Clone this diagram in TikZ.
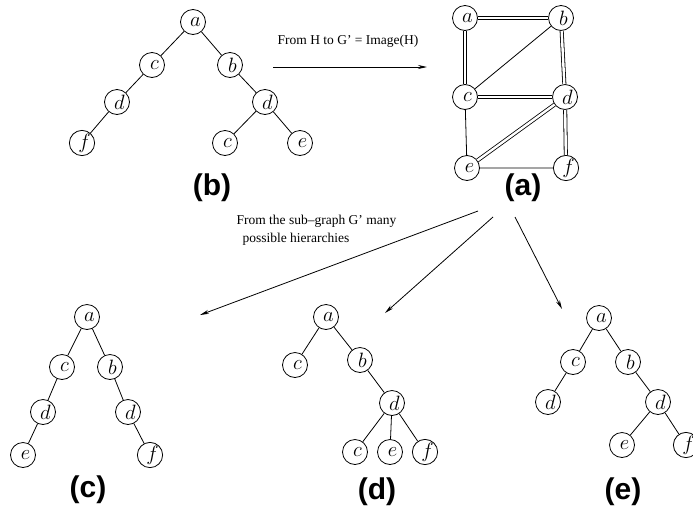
\documentclass[tikz,border=0pt]{standalone}
\usepackage{fontspec}
\setmainfont{Liberation Serif}
\newfontfamily\labelfont{Liberation Sans}
\usetikzlibrary{arrows.meta}
% vertex letters sit a little right of the circle centre
\newcommand{\vl}[1]{\hspace*{5pt}$#1$}
\tikzset{
  vtx/.style={circle, draw, line width=0.8pt, minimum size=25pt, inner sep=0pt, fill=white,
              font=\fontsize{21}{21}\selectfont},
  edge/.style={line width=0.8pt},
  dbl/.style={line width=0.8pt, double, double distance=2.4pt},
  caption/.style={font=\labelfont\bfseries\fontsize{30}{34}\selectfont},
  note/.style={font=\fontsize{13.5}{18}\selectfont, align=left},
  arr/.style={line width=0.8pt, -{Stealth[length=9pt,width=4pt]}}
}
\begin{document}
\begin{tikzpicture}[x=1pt, y=-1pt]
\useasboundingbox (0,0) rectangle (693,512);

% tree (b)
\node[vtx] (b-a) at (193,22) {\vl{a}};
\node[vtx] (b-c) at (152,65) {\vl{c}};
\node[vtx] (b-b) at (230,65) {\vl{b}};
\node[vtx] (b-d1) at (117,102) {\vl{d}};
\node[vtx] (b-d2) at (265,102) {\vl{d}};
\node[vtx] (b-f) at (82,143) {\vl{f}};
\node[vtx] (b-c2) at (225,143) {\vl{c}};
\node[vtx] (b-e) at (300,143) {\vl{e}};
\draw[edge] (b-a) -- (b-c) (b-a) -- (b-b) (b-c) -- (b-d1) (b-d1) -- (b-f)
            (b-b) -- (b-d2) (b-d2) -- (b-c2) (b-d2) -- (b-e);
\node[caption] (capb) at (212,188) {(b)};

% arrow from H to G'
\coordinate (h1) at (273,67);
\coordinate (h2) at (427,67);
\draw[arr] (h1) -- (h2);
\node[note] (hnote) at (348,41) {From H to G' = Image(H)};

% graph (a)
\node[vtx] (g-a) at (465,18) {\vl{a}};
\node[vtx] (g-b) at (561,18) {\vl{b}};
\node[vtx] (g-c) at (465,97) {\vl{c}};
\node[vtx] (g-d) at (565,97) {\vl{d}};
\node[vtx] (g-e) at (467,168) {\vl{e}};
\node[vtx] (g-f) at (566,168) {\vl{f}};
\draw[dbl] (g-a) -- (g-b);
\draw[dbl] (g-a) -- (g-c);
\draw[dbl] (g-b) -- (g-d);
\draw[dbl] (g-c) -- (g-d);
\draw[dbl] (g-d) -- (g-e);
\draw[dbl] (g-d) -- (g-f);
\draw[edge] (g-b) -- (g-c) (g-c) -- (g-e) (g-e) -- (g-f);
\node[caption] (capa) at (523,188) {(a)};

% arrows towards the hierarchies
\coordinate (s1) at (478,211);
\coordinate (t1) at (200,315);
\coordinate (s2) at (493,217);
\coordinate (t2) at (385,313);
\coordinate (s3) at (515,217);
\coordinate (t3) at (562,309);
\draw[arr] (s1) -- (t1);
\draw[arr] (s2) -- (t2);
\draw[arr] (s3) -- (t3);
\node[note, anchor=west] (subnote) at (233,230) {From the sub--graph G' many\\\hspace*{6pt}possible hierarchies};

% tree (c)
\node[vtx] (c-a) at (87,317) {\vl{a}};
\node[vtx] (c-c) at (62,367) {\vl{c}};
\node[vtx] (c-b) at (110,367) {\vl{b}};
\node[vtx] (c-d1) at (43,412) {\vl{d}};
\node[vtx] (c-d2) at (128,412) {\vl{d}};
\node[vtx] (c-e) at (23,455) {\vl{e}};
\node[vtx] (c-f) at (150,455) {\vl{f}};
\draw[edge] (c-a) -- (c-c) (c-a) -- (c-b) (c-c) -- (c-d1) (c-d1) -- (c-e)
            (c-b) -- (c-d2) (c-d2) -- (c-f);
\node[caption] (capc) at (88,490) {(c)};

% tree (d)
\node[vtx] (d-a) at (326,317) {\vl{a}};
\node[vtx] (d-c) at (295,365) {\vl{c}};
\node[vtx] (d-b) at (360,360) {\vl{b}};
\node[vtx] (d-d) at (392,403) {\vl{d}};
\node[vtx] (d-c2) at (355,452) {\vl{c}};
\node[vtx] (d-e) at (390,452) {\vl{e}};
\node[vtx] (d-f) at (425,452) {\vl{f}};
\draw[edge] (d-a) -- (d-c) (d-a) -- (d-b) (d-b) -- (d-d)
            (d-d) -- (d-c2) (d-d) -- (d-e) (d-d) -- (d-f);
\node[caption] (capd) at (377,492) {(d)};

% tree (e)
\node[vtx] (e-a) at (599,318) {\vl{a}};
\node[vtx] (e-c) at (573,362) {\vl{c}};
\node[vtx] (e-b) at (628,362) {\vl{b}};
\node[vtx] (e-d1) at (548,402) {\vl{d}};
\node[vtx] (e-d2) at (658,402) {\vl{d}};
\node[vtx] (e-e) at (622,445) {\vl{e}};
\node[vtx] (e-f) at (686,445) {\vl{f}};
\draw[edge] (e-a) -- (e-c) (e-a) -- (e-b) (e-c) -- (e-d1) (e-b) -- (e-d2)
            (e-d2) -- (e-e) (e-d2) -- (e-f);
\node[caption] (cape) at (623,492) {(e)};
\end{tikzpicture}
\end{document}
